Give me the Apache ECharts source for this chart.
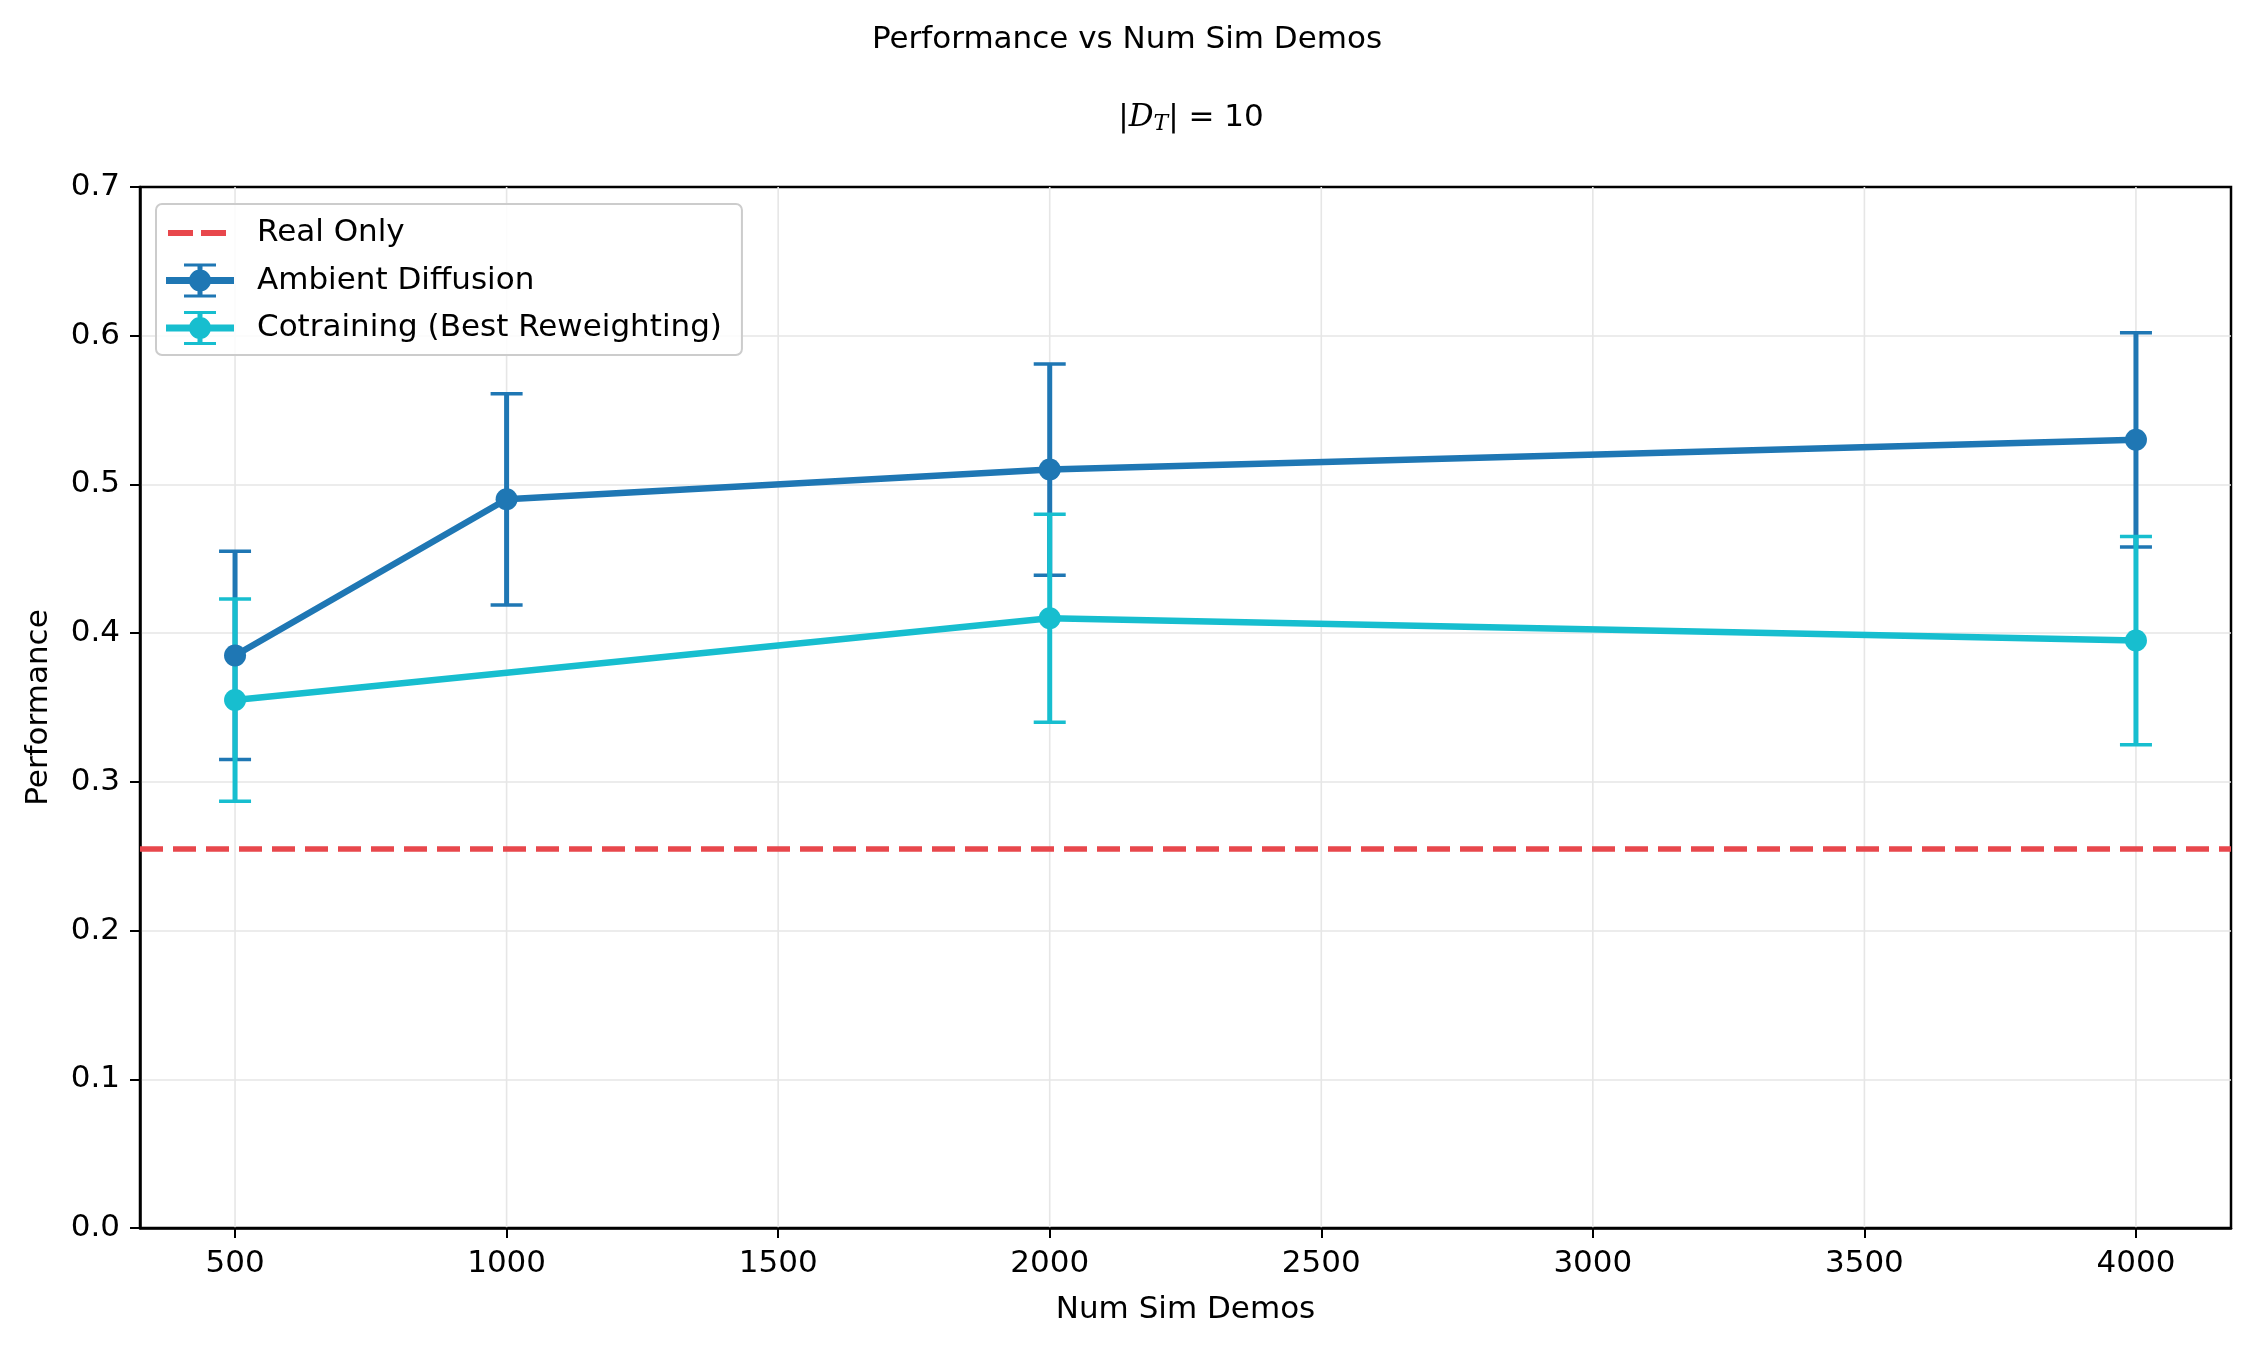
<!DOCTYPE html>
<html><head><meta charset="utf-8">
<script src="https://cdn.jsdelivr.net/npm/echarts@6/dist/echarts.min.js"></script>
<style>html,body{margin:0;padding:0;background:#fff}#c{width:2254px;height:1350px}</style>
</head><body><div id="c"></div>
<script>
// ---- data ----
const ambientX = [500, 1000, 2000, 4000];
const ambientMean = [0.385, 0.49, 0.51, 0.53];
const ambientErr = [0.07, 0.071, 0.071, 0.072];
const cotrainX = [500, 2000, 4000];
const cotrainMean = [0.355, 0.41, 0.395];
const cotrainErr = [0.068, 0.07, 0.07];
const realOnly = 0.255;
const xTicks = [500, 1000, 1500, 2000, 2500, 3000, 3500, 4000];
const seriesNames = ['Real Only', 'Ambient Diffusion', 'Cotraining (Best Reweighting)'];

// ---- style ----
const FONT = 'DejaVu Sans';
const FS = 31;
const C_AMB = '#1f77b4', C_COT = '#17becf', C_RED = '#e8474c';

const chart = echarts.init(document.getElementById('c'), null, {renderer: 'canvas'});

function errRender(color) {
  return function (params, api) {
    const x = api.value(0), lo = api.value(1), hi = api.value(2);
    const pLo = api.coord([x, lo]), pHi = api.coord([x, hi]);
    const cw = 16;
    return {
      type: 'group', children: [
        {type: 'line', shape: {x1: pLo[0], y1: pLo[1], x2: pHi[0], y2: pHi[1]}, style: {stroke: color, lineWidth: 5}},
        {type: 'line', shape: {x1: pHi[0] - cw, y1: pHi[1], x2: pHi[0] + cw, y2: pHi[1]}, style: {stroke: color, lineWidth: 3.5}},
        {type: 'line', shape: {x1: pLo[0] - cw, y1: pLo[1], x2: pLo[0] + cw, y2: pLo[1]}, style: {stroke: color, lineWidth: 3.5}}
      ]
    };
  };
}

function gridRender(params, api) {
  const x = api.value(0);
  const p1 = api.coord([x, 0]), p2 = api.coord([x, 0.7]);
  return {type: 'line', shape: {x1: p1[0], y1: p1[1], x2: p2[0], y2: p2[1]}, style: {stroke: '#e6e6e6', lineWidth: 1.6}};
}

const anchors = 'M0,0 h0.01 v0.01 h-0.01 Z M85.99,33.99 h0.01 v0.01 h-0.01 Z ';
const dashIcon = 'path://' + anchors + 'M2,14 H27 V20 H2 Z M35,14 H60 V20 H35 Z';
const ebIcon = 'path://' + anchors +
  'M0,13.5 H68 V20.5 H0 Z M31.5,0 H36.5 V34 H31.5 Z M18,0 H50 V3 H18 Z M18,31 H50 V34 H18 Z ' +
  'M23,17 A11,11 0 1 1 45,17 A11,11 0 1 1 23,17 Z';

const option = {
  backgroundColor: '#fff',
  animation: false,
  title: [
    {text: 'Performance vs Num Sim Demos', left: 'center', top: 19,
     textStyle: {fontFamily: FONT, fontSize: FS, fontWeight: 'normal', color: '#000'}},
    {text: '{a||}{d|D}{s|T}{a|| = 10}', left: 1186, textAlign: 'center', top: 96,
     textStyle: {fontFamily: FONT, fontSize: FS, fontWeight: 'normal', color: '#000',
       rich: {
         a: {fontFamily: FONT, fontSize: FS, color: '#000'},
         d: {fontFamily: 'DejaVu Serif', fontStyle: 'italic', fontSize: FS, color: '#000'},
         s: {fontFamily: 'DejaVu Serif', fontStyle: 'italic', fontSize: 22, color: '#000', padding: [12, 0, 0, 0]}
       }}}
  ],
  legend: {
    orient: 'vertical', left: 156, top: 204,
    padding: [12, 20, 10, 10], itemGap: 13.5, itemWidth: 86, itemHeight: 34,
    backgroundColor: 'rgba(255,255,255,0.85)', borderColor: '#cccccc', borderWidth: 2, borderRadius: 6,
    textStyle: {fontFamily: FONT, fontSize: FS, color: '#000'},
    selectedMode: false,
    data: [
      {name: seriesNames[0], icon: dashIcon, itemStyle: {color: C_RED, borderWidth: 0}},
      {name: seriesNames[1], icon: ebIcon, itemStyle: {color: C_AMB, borderWidth: 0}},
      {name: seriesNames[2], icon: ebIcon, itemStyle: {color: C_COT, borderWidth: 0}}
    ]
  },
  grid: {left: 140, right: 23, top: 187, bottom: 122, containLabel: false,
         show: true, borderColor: '#000', borderWidth: 2.5, backgroundColor: 'transparent'},
  xAxis: {
    type: 'value', min: 325, max: 4175,
    name: 'Num Sim Demos', nameLocation: 'middle', nameGap: 66,
    nameTextStyle: {fontFamily: FONT, fontSize: FS, color: '#000'},
    axisLine: {show: true, onZero: false, lineStyle: {color: '#000', width: 2.5}},
    axisTick: {show: true, length: 10, inside: false, lineStyle: {color: '#000', width: 2}, customValues: xTicks},
    axisLabel: {show: true, margin: 20, fontFamily: FONT, fontSize: FS, color: '#000', customValues: xTicks,
      formatter: v => String(v)},
    splitLine: {show: false}
  },
  yAxis: {
    type: 'value', min: 0, max: 0.7, interval: 0.1,
    name: 'Performance', nameLocation: 'middle', nameGap: 86, nameRotate: 90,
    nameTextStyle: {fontFamily: FONT, fontSize: FS, color: '#000'},
    axisLine: {show: true, onZero: false, lineStyle: {color: '#000', width: 2.5}},
    axisTick: {show: true, length: 10, inside: false, lineStyle: {color: '#000', width: 2}},
    axisLabel: {margin: 20, fontFamily: FONT, fontSize: FS, color: '#000', formatter: v => v.toFixed(1)},
    splitLine: {show: true, showMaxLine: false, showMinLine: false, lineStyle: {color: '#e6e6e6', width: 1.6}}
  },
  series: [
    {type: 'custom', name: 'grid-x', silent: true, z: 0, renderItem: gridRender,
     data: xTicks.map(x => [x]), encode: {x: 0}},
    {type: 'line', name: seriesNames[0], data: [], z: 1, symbol: 'none',
     lineStyle: {color: C_RED, width: 5.5, type: [23, 10]}, itemStyle: {color: C_RED},
     markLine: {silent: true, symbol: ['none', 'none'], label: {show: false}, precision: 4,
       lineStyle: {color: C_RED, width: 5.5, type: [23, 10]},
       data: [{yAxis: realOnly}]}},
    {type: 'custom', name: seriesNames[1], z: 2, renderItem: errRender(C_AMB),
     data: ambientX.map((x, i) => [x, ambientMean[i] - ambientErr[i], ambientMean[i] + ambientErr[i]]),
     encode: {x: 0, y: [1, 2]}, itemStyle: {color: C_AMB}},
    {type: 'custom', name: seriesNames[2], z: 2, renderItem: errRender(C_COT),
     data: cotrainX.map((x, i) => [x, cotrainMean[i] - cotrainErr[i], cotrainMean[i] + cotrainErr[i]]),
     encode: {x: 0, y: [1, 2]}, itemStyle: {color: C_COT}},
    {type: 'line', name: seriesNames[1], z: 3, symbol: 'circle', symbolSize: 22,
     data: ambientX.map((x, i) => [x, ambientMean[i]]),
     lineStyle: {color: C_AMB, width: 6.5}, itemStyle: {color: C_AMB, borderWidth: 0}},
    {type: 'line', name: seriesNames[2], z: 3, symbol: 'circle', symbolSize: 22,
     data: cotrainX.map((x, i) => [x, cotrainMean[i]]),
     lineStyle: {color: C_COT, width: 6.5}, itemStyle: {color: C_COT, borderWidth: 0}}
  ]
};
chart.setOption(option);
</script>
</body></html>
